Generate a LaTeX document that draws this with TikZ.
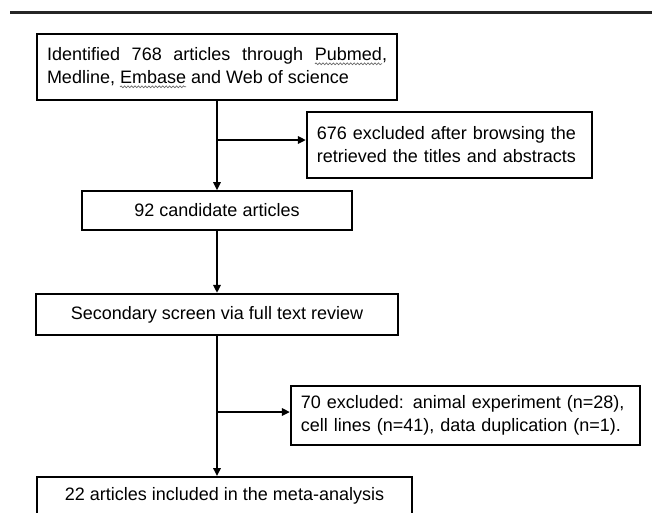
\documentclass[tikz,border=0pt]{standalone}
\usepackage{fontspec}
\setmainfont{Liberation Sans}
\usetikzlibrary{arrows.meta,decorations.pathmorphing}

% wavy underline as in the scanned figure
\newcommand\squig[1]{\tikz[baseline=(w.base)]{\node[draw=none, inner sep=0pt, outer sep=0pt, text width={}, align=none,
    minimum width=0pt, minimum height=0pt] (w) {#1};
  \draw[overlay, black!60, line width=0.5pt, decorate, decoration={snake, amplitude=0.7pt, segment length=2.6pt}]
    ([yshift=-2.2pt]w.base west) -- ([yshift=-2.2pt]w.base east);}}

\begin{document}
\begin{tikzpicture}[
  x=0.75pt, y=-0.75pt,
  box/.style={draw, line width=1.4pt, inner xsep=7.5pt, inner ysep=0pt, font=\fontsize{13.5}{17.25}\selectfont},
  arrow/.style={-{Triangle[length=6pt,width=5.5pt]}, line width=1.5pt}
]
\useasboundingbox (0,0) rectangle (652,512);
\draw[line width=2.4pt, black!85] (10,12.5) -- (652,12.5);
\node[box, align=justify, text width=255pt, minimum height=49.5pt] (ident) at (217,67) {Identified 768 articles through \squig{Pubmed},\linebreak Medline, \squig{Embase} and Web of science};
\node[box, align=left, text width=199pt, minimum height=49.5pt] (excl1) at (449.5,145) {676 excluded after browsing the\\retrieved the titles and abstracts};
\node[box, minimum width=202pt, minimum height=29pt] (cand) at (217,210.5) {92 candidate articles};
\node[box, minimum width=271pt, minimum height=31pt] (second) at (217,314.5) {Secondary screen via full text review};
\node[box, align=left, text width=247pt, minimum height=44pt] (excl2) at (465.5,415.5) {70 excluded: animal experiment (n=28),\\cell lines (n=41), data duplication (n=1).};
\node[box, minimum width=281pt, minimum height=28.5pt] (incl) at (224.5,496) {22 articles included in the meta-analysis};
\coordinate (b1) at (217,140);
\coordinate (b2) at (217,412);
\draw[arrow] (ident.south) -- (ident.south |- cand.north);
\draw[arrow] (b1) -- (b1 -| excl1.west);
\draw[arrow] (cand.south) -- (cand.south |- second.north);
\draw[arrow] (second.south) -- (second.south |- incl.north);
\draw[arrow] (b2) -- (b2 -| excl2.west);
\end{tikzpicture}
\end{document}
